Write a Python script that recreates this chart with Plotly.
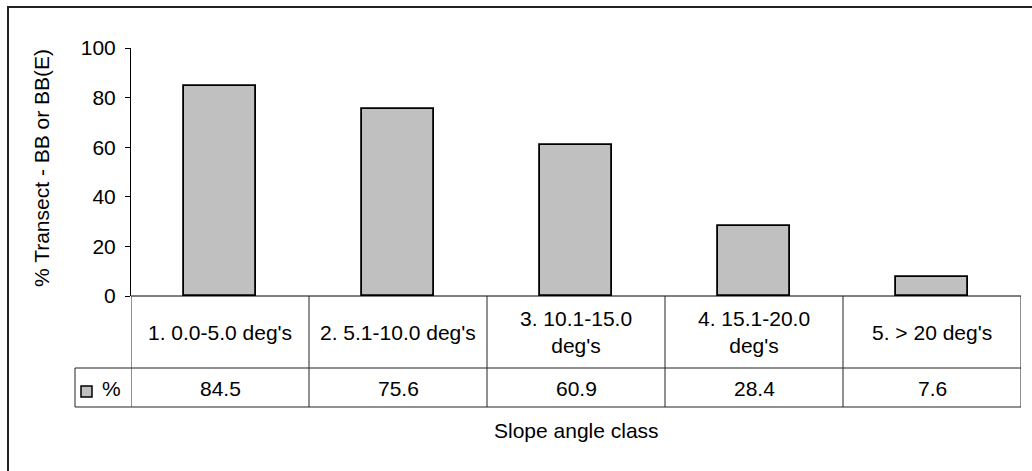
import plotly.graph_objects as go

categories = ["1. 0.0-5.0 deg's", "2. 5.1-10.0 deg's", "3. 10.1-15.0<br>deg's", "4. 15.1-20.0<br>deg's", "5. > 20 deg's"]
values = [84.5, 75.6, 60.9, 28.4, 7.6]
series_name = "%"
y_ticks = [0, 20, 40, 60, 80, 100]
y_title = "% Transect - BB or BB(E)"
x_title = "Slope angle class"

W, H = 1032, 471
L, R, T, B = 131, 1021, 48, 296  # plot area in pixels

def px(x):
    return (x - L) / (R - L)

def py(y):
    return (B - y) / (B - T)

FONT = "Arial, Liberation Sans, sans-serif"
FS = 21
xs = list(range(len(categories)))

fig = go.Figure()
fig.add_trace(go.Bar(
    x=xs, y=values, width=0.41,
    marker=dict(color="#C0C0C0", line=dict(color="black", width=1.8)),
    showlegend=False, hoverinfo="skip",
))

shapes = []
line = dict(color="#222222", width=1)
n = len(categories)
shapes.append(dict(type="line", xref="paper", yref="paper", x0=0, x1=1, y0=py(296), y1=py(296), line=dict(color="black", width=1)))
for yy in (368, 407):
    shapes.append(dict(type="line", xref="paper", yref="paper", x0=px(75), x1=1, y0=py(yy), y1=py(yy), line=line))
for i in range(n + 1):
    shapes.append(dict(type="line", xref="x", yref="paper", x0=i - 0.5, x1=i - 0.5, y0=py(296), y1=py(407), line=line))
shapes.append(dict(type="line", xref="paper", yref="paper", x0=px(75), x1=px(75), y0=py(368), y1=py(407), line=line))
shapes.append(dict(type="rect", xref="paper", yref="paper", x0=px(81), x1=px(92), y0=py(386), y1=py(397),
                   fillcolor="#C0C0C0", line=dict(color="black", width=1.5)))
shapes.append(dict(type="rect", xref="paper", yref="paper", x0=px(8), x1=px(1040), y0=py(7), y1=py(480),
                   line=dict(color="#222222", width=2), fillcolor="rgba(0,0,0,0)", layer="below"))

def ann(x, y, text, xref="paper", xanchor="center", angle=0):
    return dict(x=x, y=y, xref=xref, yref="paper", text=text, showarrow=False,
                xanchor=xanchor, yanchor="middle", textangle=angle, align="center",
                font=dict(size=FS, color="black", family=FONT))

annotations = []
for i, c in enumerate(categories):
    annotations.append(ann(i, py(332), c, xref="x"))
    annotations.append(ann(i, py(388), f"{values[i]:.1f}", xref="x"))
annotations.append(ann(px(100), py(388), series_name, xanchor="left"))
annotations.append(ann(px(576), py(430), x_title))
annotations.append(ann(px(41), py(168), y_title, angle=-90))

fig.update_layout(
    width=W, height=H,
    margin=dict(l=L, r=W - R, t=T, b=H - B, pad=0),
    paper_bgcolor="white", plot_bgcolor="white",
    font=dict(family=FONT, size=FS, color="black"),
    xaxis=dict(range=[-0.5, n - 0.5], showticklabels=False, ticks="", showgrid=False, zeroline=False, showline=False),
    yaxis=dict(range=[0, 100], tickvals=y_ticks, ticks="outside", ticklen=5, tickcolor="black", tickwidth=1,
               ticklabelstandoff=5,
               showline=True, linecolor="black", linewidth=1, showgrid=False, zeroline=False,
               tickfont=dict(size=FS, color="black", family=FONT)),
    shapes=shapes, annotations=annotations, bargap=0,
)

fig.write_html("out.html")
